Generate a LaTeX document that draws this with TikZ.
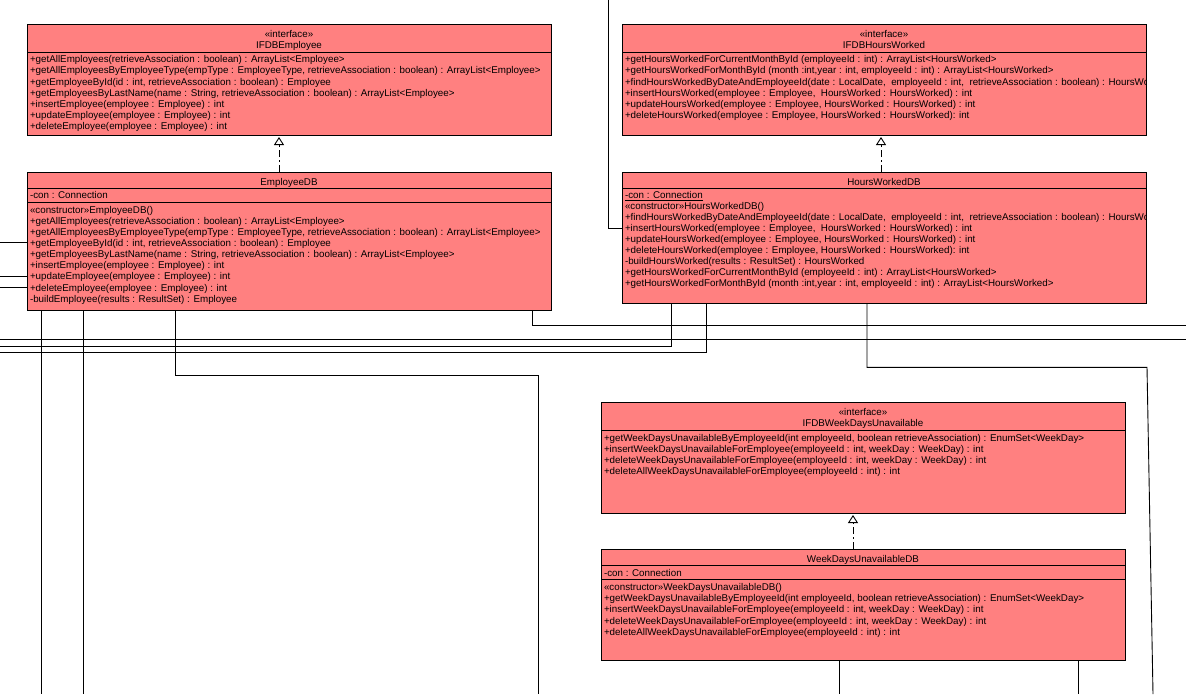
\documentclass[tikz,border=0pt]{standalone}
\usepackage{fontspec}
\setmainfont{Liberation Sans}
\usetikzlibrary{arrows.meta}
\definecolor{umlfill}{HTML}{FF8080}
\begin{document}
\begin{tikzpicture}[x=1pt,y=-1pt,
  classbox/.style={draw=black, line width=1pt, fill=umlfill, inner sep=0pt, anchor=north west},
  rowtxt/.style={anchor=base west, inner sep=0pt, font=\fontsize{9.8}{11}\selectfont},
  ttl/.style={anchor=base, inner sep=0pt, font=\fontsize{9.8}{11}\selectfont},
  divline/.style={line width=1pt, black},
  conn/.style={line width=0.9pt, black},
  gen/.style={line width=0.9pt, black, dash pattern=on 7pt off 3pt on 2pt off 3pt,
    -{Triangle[open, length=8pt, width=10pt, line width=0.9pt]}, shorten >=1pt}]
\useasboundingbox (0,0) rectangle (1186,694);
\fill[white] (0,0) rectangle (1186,694);

% ---------- free ends ----------
\coordinate (topA) at (608,0);
\coordinate (lf1) at (0,242.5);
\coordinate (lf2) at (0,276);
\coordinate (lf3) at (0,287);
\coordinate (bt41) at (41,694);
\coordinate (bt83) at (83,694);
\coordinate (bt538) at (538,694);
\coordinate (rt325) at (1186,325);
\coordinate (lf339) at (0,339.3);
\coordinate (rt339) at (1186,339.3);
\coordinate (lf346) at (0,346);
\coordinate (lf353) at (0,352.7);
\coordinate (bt1153) at (1153,694);
\coordinate (bt839) at (839,694);
\coordinate (bt1078) at (1078,694);

% ---------- IFDBEmployee ----------
\node[classbox, minimum width=524pt, minimum height=111pt] (ifemp) at (27,24) {};
\draw[divline] (ifemp.west |- 0,52.5) -- (ifemp.east |- 0,52.5);
\node[ttl] (ifempS) at (289,37.5) {«interface»};
\node[ttl] (ifempN) at (289,48.3) {IFDBEmployee};
\node[rowtxt] (ie1) at (29.8,62.8) {+getAllEmployees(retrieveAssociation : boolean) : ArrayList<Employee>};
\node[rowtxt] (ie2) at (29.8,73.9) {+getAllEmployeesByEmployeeType(empType : EmployeeType, retrieveAssociation : boolean) : ArrayList<Employee>};
\node[rowtxt] (ie3) at (29.8,85.0) {+getEmployeeById(id : int, retrieveAssociation : boolean) : Employee};
\node[rowtxt] (ie4) at (29.8,96.1) {+getEmployeesByLastName(name : String, retrieveAssociation : boolean) : ArrayList<Employee>};
\node[rowtxt] (ie5) at (29.8,107.2) {+insertEmployee(employee : Employee) : int};
\node[rowtxt] (ie6) at (29.8,118.3) {+updateEmployee(employee : Employee) : int};
\node[rowtxt] (ie7) at (29.8,129.4) {+deleteEmployee(employee : Employee) : int};

% ---------- EmployeeDB ----------
\node[classbox, minimum width=524pt, minimum height=138pt] (empdb) at (27,172) {};
\draw[divline] (empdb.west |- 0,188.5) -- (empdb.east |- 0,188.5);
\draw[divline] (empdb.west |- 0,202.3) -- (empdb.east |- 0,202.3);
\node[ttl] (empdbN) at (289,185) {EmployeeDB};
\node[rowtxt] (ed0) at (29.8,198.5) {-con : Connection};
\node[rowtxt] (ed1) at (29.8,213.3) {«constructor»EmployeeDB()};
\node[rowtxt] (ed2) at (29.8,224.4) {+getAllEmployees(retrieveAssociation : boolean) : ArrayList<Employee>};
\node[rowtxt] (ed3) at (29.8,235.5) {+getAllEmployeesByEmployeeType(empType : EmployeeType, retrieveAssociation : boolean) : ArrayList<Employee>};
\node[rowtxt] (ed4) at (29.8,246.6) {+getEmployeeById(id : int, retrieveAssociation : boolean) : Employee};
\node[rowtxt] (ed5) at (29.8,257.7) {+getEmployeesByLastName(name : String, retrieveAssociation : boolean) : ArrayList<Employee>};
\node[rowtxt] (ed6) at (29.8,268.8) {+insertEmployee(employee : Employee) : int};
\node[rowtxt] (ed7) at (29.8,279.9) {+updateEmployee(employee : Employee) : int};
\node[rowtxt] (ed8) at (29.8,291.0) {+deleteEmployee(employee : Employee) : int};
\node[rowtxt] (ed9) at (29.8,302.1) {-buildEmployee(results : ResultSet) : Employee};

% ---------- IFDBHoursWorked ----------
\node[classbox, minimum width=524pt, minimum height=111pt] (ifhw) at (622,24) {};
\draw[divline] (ifhw.west |- 0,52.5) -- (ifhw.east |- 0,52.5);
\node[ttl] (ifhwS) at (884,37.5) {«interface»};
\node[ttl] (ifhwN) at (884,48.3) {IFDBHoursWorked};
\begin{scope}
\clip (622,53) rectangle (1145.5,134.5);
\node[rowtxt] (ih1) at (624.8,62.8) {+getHoursWorkedForCurrentMonthById (employeeId : int) : ArrayList<HoursWorked>};
\node[rowtxt] (ih2) at (624.8,73.9) {+getHoursWorkedForMonthById (month :int,year : int, employeeId : int) : ArrayList<HoursWorked>};
\node[rowtxt] (ih3) at (624.8,85.0) {+findHoursWorkedByDateAndEmployeeId(date : LocalDate,\ \ employeeId : int,\ \ retrieveAssociation : boolean) : HoursWorked};
\node[rowtxt] (ih4) at (624.8,96.1) {+insertHoursWorked(employee : Employee,\ \ HoursWorked : HoursWorked) : int};
\node[rowtxt] (ih5) at (624.8,107.2) {+updateHoursWorked(employee : Employee, HoursWorked : HoursWorked) : int};
\node[rowtxt] (ih6) at (624.8,118.3) {+deleteHoursWorked(employee : Employee, HoursWorked : HoursWorked): int};
\end{scope}

% ---------- HoursWorkedDB ----------
\node[classbox, minimum width=524pt, minimum height=131pt] (hwdb) at (622,172) {};
\draw[divline] (hwdb.west |- 0,188.5) -- (hwdb.east |- 0,188.5);
\node[ttl] (hwdbN) at (884,185) {HoursWorkedDB};
\begin{scope}
\clip (622,189) rectangle (1145.5,302.5);
\node[rowtxt] (hd0) at (624.8,198.2) {\underline{-con : Connection}};
\node[rowtxt] (hd1) at (624.8,209.1) {«constructor»HoursWorkedDB()};
\node[rowtxt] (hd2) at (624.8,220.2) {+findHoursWorkedByDateAndEmployeeId(date : LocalDate,\ \ employeeId : int,\ \ retrieveAssociation : boolean) : HoursWorked};
\node[rowtxt] (hd3) at (624.8,231.3) {+insertHoursWorked(employee : Employee,\ \ HoursWorked : HoursWorked) : int};
\node[rowtxt] (hd4) at (624.8,242.4) {+updateHoursWorked(employee : Employee, HoursWorked : HoursWorked) : int};
\node[rowtxt] (hd5) at (624.8,253.5) {+deleteHoursWorked(employee : Employee, HoursWorked : HoursWorked): int};
\node[rowtxt] (hd6) at (624.8,264.6) {-buildHoursWorked(results : ResultSet) : HoursWorked};
\node[rowtxt] (hd7) at (624.8,275.7) {+getHoursWorkedForCurrentMonthById (employeeId : int) : ArrayList<HoursWorked>};
\node[rowtxt] (hd8) at (624.8,286.8) {+getHoursWorkedForMonthById (month :int,year : int, employeeId : int) : ArrayList<HoursWorked>};
\end{scope}

% ---------- IFDBWeekDaysUnavailable ----------
\node[classbox, minimum width=524pt, minimum height=111pt] (ifwd) at (601,402) {};
\draw[divline] (ifwd.west |- 0,430.7) -- (ifwd.east |- 0,430.7);
\node[ttl] (ifwdS) at (863,415.8) {«interface»};
\node[ttl] (ifwdN) at (863,426.8) {IFDBWeekDaysUnavailable};
\node[rowtxt] (iw1) at (603.8,441.3) {+getWeekDaysUnavailableByEmployeeId(int employeeId, boolean retrieveAssociation) : EnumSet<WeekDay>};
\node[rowtxt] (iw2) at (603.8,452.4) {+insertWeekDaysUnavailableForEmployee(employeeId : int, weekDay : WeekDay) : int};
\node[rowtxt] (iw3) at (603.8,463.5) {+deleteWeekDaysUnavailableForEmployee(employeeId : int, weekDay : WeekDay) : int};
\node[rowtxt] (iw4) at (603.8,474.6) {+deleteAllWeekDaysUnavailableForEmployee(employeeId : int) : int};

% ---------- WeekDaysUnavailableDB ----------
\node[classbox, minimum width=524pt, minimum height=111pt] (wddb) at (601,549) {};
\draw[divline] (wddb.west |- 0,565.8) -- (wddb.east |- 0,565.8);
\draw[divline] (wddb.west |- 0,579.8) -- (wddb.east |- 0,579.8);
\node[ttl] (wddbN) at (863,562.3) {WeekDaysUnavailableDB};
\node[rowtxt] (wd0) at (603.8,576) {-con : Connection};
\node[rowtxt] (wd1) at (603.8,590.7) {«constructor»WeekDaysUnavailableDB()};
\node[rowtxt] (wd2) at (603.8,601.8) {+getWeekDaysUnavailableByEmployeeId(int employeeId, boolean retrieveAssociation) : EnumSet<WeekDay>};
\node[rowtxt] (wd3) at (603.8,612.9) {+insertWeekDaysUnavailableForEmployee(employeeId : int, weekDay : WeekDay) : int};
\node[rowtxt] (wd4) at (603.8,624.0) {+deleteWeekDaysUnavailableForEmployee(employeeId : int, weekDay : WeekDay) : int};
\node[rowtxt] (wd5) at (603.8,635.1) {+deleteAllWeekDaysUnavailableForEmployee(employeeId : int) : int};

% ---------- generalizations ----------
\draw[gen] (empdb.north -| 279,0) -- (ifemp.south -| 279,0);
\draw[gen] (hwdb.north -| 881,0) -- (ifhw.south -| 881,0);
\draw[gen] (wddb.north -| 853,0) -- (ifwd.south -| 853,0);

% ---------- other connectors ----------
\draw[conn] (topA) |- (hwdb.west |- 0,228);
\draw[conn] (lf1) -- (empdb.west |- lf1);
\draw[conn] (lf2) -- (empdb.west |- lf2);
\draw[conn] (lf3) -- (empdb.west |- lf3);
\draw[conn] (empdb.south -| bt41) -- (bt41);
\draw[conn] (empdb.south -| bt83) -- (bt83);
\draw[conn] (empdb.south -| 175,0) |- (538,375) -- (bt538);
\draw[conn] (empdb.south -| 532,0) |- (rt325);
\draw[conn] (lf339) -- (rt339);
\draw[conn] (hwdb.south -| 671.4,0) |- (lf346);
\draw[conn] (hwdb.south -| 706.5,0) |- (lf353);
\draw[conn] (hwdb.south -| 867,0) |- (1147,367.3) -- (bt1153);
\draw[conn] (wddb.south -| bt839) -- (bt839);
\draw[conn] (wddb.south -| bt1078) -- (bt1078);
\end{tikzpicture}
\end{document}
